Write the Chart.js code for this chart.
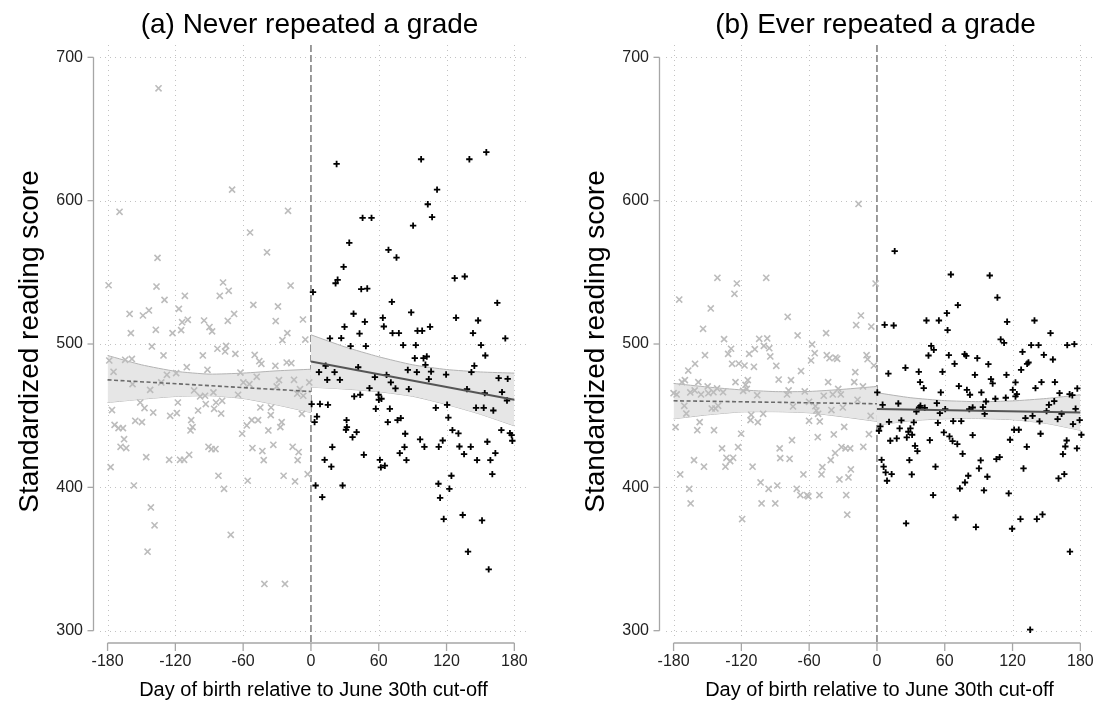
<!DOCTYPE html>
<html><head><meta charset="utf-8">
<script src="https://cdn.jsdelivr.net/npm/chart.js@4/dist/chart.umd.min.js"></script>
<style>
html,body{margin:0;padding:0;background:#fff;overflow:hidden;width:1096px;height:702px;}
.wrap{position:absolute;top:0;width:627px;height:702px;}
</style></head><body>
<div class="wrap" style="left:0"><canvas id="cA" width="627" height="702"></canvas></div>
<div class="wrap" style="left:566px"><canvas id="cB" width="627" height="702"></canvas></div>
<script>
const X_TICKS = [-180,-120,-60,0,60,120,180];
const Y_TICKS = [300,400,500,600,700];
const TITLES = ['(a) Never repeated a grade', '(b) Ever repeated a grade'];
const X_TITLE = 'Day of birth relative to June 30th cut-off';
const Y_TITLE = 'Standardized reading score';

// Panel (a): points born before cut-off (grey x) and after (black +), [day, score]
const A_BEFORE = [[-134.9,678.4],[-69.8,607.7],[-169.4,592.2],[-20.3,592.9],[-53.9,577.8],[-38.9,564.0],[-135.8,560.1],[-179.1,541.0],[-136.7,540.1],[-77.8,542.9],[-72.8,537.1],[-18.0,540.8],[-111.6,533.6],[-80.7,533.6],[-129.6,530.8],[-51.0,527.3],[-29.2,526.2],[-116.9,524.5],[-160.5,521.0],[-143.4,523.4],[-148.7,519.9],[-68.0,521.0],[-109.0,516.9],[-114.0,515.2],[-94.6,516.4],[-73.6,516.2],[-31.2,516.0],[-7.1,517.1],[-89.8,511.8],[-87.5,508.8],[-159.4,507.6],[-137.3,509.9],[-122.5,507.6],[-114.9,509.7],[-20.9,507.6],[-25.3,502.7],[-5.0,503.1],[-140.8,498.3],[-82.8,496.7],[-75.1,498.7],
[-76.0,494.8],[-130.5,492.0],[-95.7,492.0],[-66.9,493.1],[-49.8,492.4],[-164.4,489.0],[-158.5,489.6],[-178.5,488.5],[-45.7,488.0],[-43.9,486.2],[-31.5,484.8],[-21.5,487.1],[-17.4,486.6],[-109.9,483.8],[-91.6,482.0],[-174.7,480.6],[-127.5,478.5],[-119.3,479.7],[-62.4,480.1],[-48.0,477.1],[-28.3,474.8],[-15.0,475.0],[-157.9,472.0],[-132.5,473.2],[-59.8,473.2],[-54.5,472.0],[-1.5,473.2],[-142.3,468.0],[-103.4,467.6],[-86.3,466.2],[-64.5,464.6],[-9.7,468.5],[-12.1,465.3],[-6.8,463.9],[-30.3,470.4],[-98.1,463.4],[-93.7,463.9],[-151.1,459.2],[-117.8,459.2],[-93.1,458.1],[-84.0,459.2],[-78.6,460.4],[-147.3,455.3],[-85.7,454.8],[-44.8,455.7],[-35.3,455.7],[-176.1,453.9],[-139.6,452.2],[-118.7,451.8],[-99.9,453.6],[-79.5,451.5],[-35.6,450.4],[-8.0,451.3],[-124.6,449.9],[-155.5,446.4],[-149.6,445.5],[-106.0,446.9],[-52.4,446.9],[-46.8,446.9],[-56.8,443.2],[-25.9,445.5],[-173.8,443.6],[-104.8,442.0],[-170.3,441.3],[-166.4,441.3],[-106.6,439.7],[-37.7,439.7],[-27.1,442.0],[-60.9,437.4],[-165.4,433.6],[-168.5,428.3],[-163.5,427.4],[-90.7,428.3],[-88.0,426.7],[-84.5,426.7],[-51.8,427.4],[-33.3,429.7],[-16.2,428.3],[-43.0,425.3],[-10.9,424.6],[-145.8,421.1],[-125.5,419.2],[-115.8,419.2],[-112.3,419.2],[-107.8,422.7],[-41.8,419.0],[-11.8,419.0],[-177.3,414.1],[-81.9,408.1],[-24.2,408.1],[-2.9,409.2],[-56.0,404.6],[-14.1,404.1],[-156.7,401.3],[-76.9,399.0],[-141.7,386.0],[-138.4,373.5],[-71.0,366.9],[-144.6,355.1],[-41.2,332.6],[-23.0,332.6]];
const A_AFTER = [[22.7,625.6],[97.5,628.9],[140.2,628.9],[155.2,633.8],[111.6,607.7],[103.4,597.5],[107.2,588.5],[45.7,588.0],[53.6,588.0],[90.4,582.6],[33.9,570.6],[68.6,565.7],[75.7,560.3],[28.9,553.8],[23.6,544.8],[21.8,542.4],[127.2,545.9],[136.1,547.1],[1.8,536.2],[44.5,538.3],[49.8,538.7],[71.6,529.4],[164.9,528.7],[37.7,521.1],[88.7,522.0],[63.6,518.3],[128.4,518.3],[147.9,516.4],[47.7,515.5],[29.7,512.0],[64.5,512.2],[105.4,512.0],[43.0,507.3],[72.2,507.6],[77.8,507.6],[94.3,509.2],[98.4,509.2],[143.4,507.6],[16.8,503.9],[26.8,504.1],[172.0,503.9],[35.1,498.5],[48.6,498.5],[81.6,499.2],[92.8,499.2],[150.5,499.2],
[91.9,490.1],[99.6,490.1],[102.5,491.3],[154.3,492.0],[101.3,485.5],[144.6,484.8],[13.0,484.8],[41.8,483.8],[7.1,480.4],[20.9,480.4],[85.7,481.9],[93.7,480.4],[106.3,480.8],[119.6,478.7],[142.0,480.4],[56.6,476.9],[66.9,478.5],[14.4,475.0],[25.6,475.0],[70.7,473.2],[104.3,475.5],[166.1,476.2],[174.1,475.7],[51.8,469.2],[74.8,469.0],[86.6,468.5],[138.1,468.5],[38.3,463.4],[43.6,464.6],[59.8,464.6],[153.8,465.7],[169.1,466.4],[60.1,461.1],[62.4,461.8],[173.5,460.6],[0.6,458.1],[8.0,458.1],[15.0,457.6],[120.5,457.6],[110.5,455.5],[146.1,455.5],[152.9,455.5],[161.4,453.6],[57.4,454.8],[69.8,454.8],[5.3,449.4],[3.2,445.5],[121.6,448.7],[31.5,446.9],[68.0,445.5],[76.6,446.9],[79.5,448.3],[31.8,442.0],[31.0,440.2],[40.4,438.5],[125.2,439.9],[130.5,437.6],[83.4,437.4],[36.8,435.0],[168.5,439.9],[176.1,437.8],[177.6,436.4],[178.2,432.5],[96.6,433.4],[116.6,432.7],[156.1,431.8],[18.9,428.1],[82.8,428.1],[100.4,428.3],[113.1,428.3],[131.4,428.5],[141.4,428.3],[135.5,423.2],[163.2,423.9],[46.8,422.7],[78.6,423.9],[12.1,419.2],[61.0,419.2],[84.5,419.0],[147.0,419.0],[158.8,419.0],[18.0,414.4],[61.9,413.9],[65.4,415.1],[160.5,409.2],[124.3,408.1],[4.1,401.3],[28.0,401.3],[112.8,402.5],[122.5,399.0],[10.0,393.2],[114.3,392.7],[134.3,380.7],[151.4,376.9],[117.5,377.9],[139.0,355.1],[157.3,342.8]];

// Panel (b)
const B_BEFORE = [[-16.3,597.7],[-141.2,546.2],[-98.0,546.2],[-124.0,542.2],[-1.2,542.2],[-126.1,535.0],[-175.0,531.0],[-147.1,524.8],[-79.0,519.0],[-14.2,519.9],[-18.4,513.2],[-5.0,512.2],[-153.9,510.6],[-70.2,506.0],[-45.0,507.6],[-135.3,503.4],[-104.2,503.6],[-97.1,503.9],[-57.4,499.7],[-129.1,496.7],[-108.1,496.4],[-100.1,498.7],[-95.3,497.1],
[-152.2,492.2],[-131.7,493.1],[-113.1,493.1],[-94.4,491.3],[-55.1,493.6],[-58.3,488.5],[-44.4,492.2],[-42.0,490.1],[-36.7,490.6],[-35.2,489.7],[-9.2,492.2],[-8.3,489.4],[-2.7,485.0],[-161.0,486.2],[-128.2,486.2],[-122.3,486.4],[-117.2,485.0],[-108.9,484.1],[-89.1,484.8],[-167.0,481.5],[-67.2,481.1],[-19.2,480.4],[-170.0,474.8],[-172.6,473.4],[-158.1,473.4],[-125.2,473.4],[-114.3,474.8],[-87.0,475.2],[-76.1,474.8],[-43.2,473.4],[-20.1,473.4],[-12.4,470.4],[-116.3,471.5],[-149.8,470.4],[-141.5,469.0],[-161.3,467.6],[-34.3,468.7],[-180.0,465.7],[-177.3,464.8],[-165.2,466.2],[-155.7,464.8],[-149.2,465.7],[-144.7,466.4],[-136.2,466.4],[-118.4,467.3],[-115.2,468.7],[-106.0,464.3],[-79.6,464.8],[-78.2,467.6],[-63.9,466.9],[-47.1,463.9],[-39.1,464.8],[-32.0,464.8],[-17.2,461.1],[-170.5,456.9],[-146.2,455.0],[-143.0,455.0],[-140.6,456.9],[-74.3,456.4],[-60.1,459.7],[-54.5,456.6],[-53.6,453.6],[-40.3,453.9],[-30.2,455.7],[-168.7,451.5],[-111.3,450.6],[-100.7,451.3],[-52.1,451.3],[-5.6,449.9],[-156.9,445.5],[-111.9,446.9],[-105.4,445.5],[-60.1,446.4],[-50.6,446.0],[-178.2,442.0],[-159.0,439.9],[-144.2,439.9],[-120.2,437.4],[-29.0,442.2],[-52.4,435.0],[-38.2,436.9],[-7.1,437.1],[-75.2,432.9],[-122.9,428.1],[-137.1,427.2],[-86.1,427.2],[-31.4,428.1],[-27.8,427.2],[-23.7,427.2],[-12.1,428.3],[-37.0,423.9],[-133.2,420.6],[-127.3,420.6],[-85.6,420.4],[-77.3,419.9],[-161.9,419.0],[-40.9,419.0],[-129.9,418.3],[-153.1,414.4],[-134.1,414.4],[-110.1,414.4],[-48.3,414.1],[-23.1,412.5],[-174.1,409.0],[-65.1,409.0],[-49.1,409.0],[-33.2,405.5],[-25.2,406.9],[-103.0,403.4],[-166.1,399.0],[-95.9,399.0],[-88.2,401.3],[-71.0,399.0],[-67.8,394.6],[-61.9,394.6],[-60.7,393.7],[-50.9,394.6],[-27.2,394.6],[-164.9,388.8],[-102.1,388.8],[-90.0,388.8],[-26.3,380.9],[-119.3,377.9]];
const B_AFTER = [[15.7,564.8],[65.4,548.5],[99.8,547.8],[106.6,532.4],[71.6,527.1],[61.9,521.5],[6.8,513.4],[14.8,512.9],[43.8,516.4],[54.8,516.4],[115.2,515.5],[139.4,516.4],[62.5,509.7],[153.6,507.6],[109.5,503.2],[112.5,500.8],[48.0,498.7],[136.5,499.2],[143.0,499.2],[168.4,499.2],[174.7,499.9],
[50.3,495.9],[45.6,492.0],[63.6,492.2],[77.6,492.9],[79.0,491.7],[88.8,490.1],[128.8,494.5],[147.7,492.4],[155.7,489.2],[68.7,486.2],[98.6,485.9],[134.1,487.1],[132.9,486.2],[25.2,483.4],[10.1,479.4],[37.0,480.6],[58.0,480.6],[86.7,478.5],[114.6,478.5],[127.6,482.0],[38.2,473.4],[100.9,475.5],[102.4,472.5],[122.6,473.2],[145.6,473.4],[157.5,473.4],[41.4,469.2],[72.5,470.6],[79.6,468.0],[140.3,469.2],[177.3,469.0],[0.3,466.2],[56.5,466.2],[82.3,464.6],[92.4,466.2],[120.2,468.0],[123.8,465.0],[161.6,465.7],[170.5,465.0],[172.9,464.3],[104.8,461.8],[114.0,462.5],[96.5,459.9],[122.6,463.4],[5.0,457.6],[18.9,458.5],[53.0,458.7],[156.9,460.1],[152.2,457.6],[38.5,456.9],[42.3,455.5],[37.3,455.7],[60.4,454.6],[81.7,454.6],[84.7,455.7],[93.8,456.0],[175.8,454.8],[34.9,452.9],[55.7,451.8],[95.3,451.3],[150.1,453.2],[163.4,451.3],[137.7,449.9],[10.7,445.7],[21.6,446.7],[67.5,446.2],[74.6,446.2],[53.9,445.0],[131.4,448.3],[143.9,446.0],[159.9,447.6],[179.4,446.9],[173.5,444.1],[32.6,445.3],[3.0,442.5],[20.1,441.1],[29.6,441.1],[1.8,439.5],[27.8,438.8],[59.2,438.3],[121.4,440.2],[125.5,440.2],[31.1,436.7],[84.7,436.4],[144.8,437.4],[180.9,436.7],[17.5,434.1],[26.4,434.8],[64.2,435.5],[11.8,432.5],[46.8,432.9],[66.9,432.3],[71.1,430.2],[117.8,433.2],[167.9,432.7],[33.7,429.0],[132.6,428.3],[166.7,428.5],[177.0,427.2],[35.8,425.3],[75.8,423.4],[164.6,423.2],[4.1,419.2],[28.7,419.0],[91.8,418.8],[105.7,419.7],[108.6,421.1],[5.9,414.4],[51.8,414.4],[90.3,413.2],[129.7,413.2],[7.7,410.4],[13.0,409.2],[30.8,409.0],[80.8,408.1],[97.7,407.4],[165.8,409.2],[160.7,406.2],[8.9,404.6],[77.9,403.4],[73.4,399.2],[94.7,397.9],[49.7,394.6],[116.6,395.8],[69.6,379.0],[127.0,377.9],[141.5,377.9],[146.5,381.1],[25.8,374.9],[87.6,372.3],[119.6,371.1],[170.8,355.1],[135.6,300.7]];

// Fitted lines and 95% CI bands
const BAND_X_LEFT = [-180,-150,-120,-90,-60,-30,0];
const BAND_X_RIGHT = [0,30,60,90,120,150,180];
const A_BAND_L_UP = [492.0,485.5,481.0,479.0,479.7,481.3,482.4];
const A_BAND_L_LO = [459.2,461.5,463.4,463.9,462.0,457.5,452.2];
const A_BAND_R_UP = [506.4,498.0,491.1,485.5,482.2,480.5,479.7];
const A_BAND_R_LO = [469.9,468.6,466.7,463.5,457.8,451.0,442.9];
const B_BAND_L_UP = [472.5,470.0,468.0,466.8,466.9,468.4,470.4];
const B_BAND_L_LO = [447.8,450.6,452.6,452.8,452.0,449.2,446.0];
const B_BAND_R_UP = [466.0,462.5,460.5,459.8,460.3,462.0,464.6];
const B_BAND_R_LO = [443.4,446.5,447.8,448.0,447.2,444.6,439.8];
const A_FIT_L = [[-180,475.0],[0,466.9]];
const A_FIT_R = [[0,487.8],[180,461.1]];
const B_FIT_L = [[-180,460.4],[0,458.3]];
const B_FIT_R = [[0,454.6],[180,452.2]];

const FONT = "'Liberation Sans', Arial, Helvetica, sans-serif";
const pts = a => a.map(p => ({x:p[0], y:p[1]}));
const band = (xs, ys) => xs.map((x,i) => ({x, y:ys[i]}));

const decor = {
  id:'decor',
  beforeDatasetsDraw(chart){
    const {ctx, chartArea:a, scales:{x,y}} = chart;
    ctx.save();
    ctx.strokeStyle = '#c2c2c2'; ctx.lineWidth = 1; ctx.setLineDash([1,4]);
    Y_TICKS.forEach(v => { const py = Math.round(y.getPixelForValue(v)) + 0.5;
      ctx.beginPath(); ctx.moveTo(a.left, py); ctx.lineTo(a.right, py); ctx.stroke(); });
    X_TICKS.forEach(v => { if (v === 0) return; const px = Math.round(x.getPixelForValue(v)) + 0.5;
      ctx.beginPath(); ctx.moveTo(px, a.top); ctx.lineTo(px, a.bottom); ctx.stroke(); });
    const p0 = x.getPixelForValue(0);
    ctx.strokeStyle = '#7c7c7c'; ctx.lineWidth = 1.5; ctx.setLineDash([7,3]);
    ctx.beginPath(); ctx.moveTo(p0, a.top); ctx.lineTo(p0, a.bottom + 4); ctx.stroke();
    ctx.setLineDash([]); ctx.strokeStyle = '#a6a6a6'; ctx.lineWidth = 1.3;
    const ax = a.left - 6.5;
    ctx.beginPath(); ctx.moveTo(ax, y.getPixelForValue(700)); ctx.lineTo(ax, y.getPixelForValue(300)); ctx.stroke();
    Y_TICKS.forEach(v => { const py = y.getPixelForValue(v);
      ctx.beginPath(); ctx.moveTo(ax, py); ctx.lineTo(ax - 6, py); ctx.stroke(); });
    const ay = a.bottom + 5;
    ctx.beginPath(); ctx.moveTo(x.getPixelForValue(-180), ay); ctx.lineTo(x.getPixelForValue(180), ay); ctx.stroke();
    X_TICKS.forEach(v => { const px = x.getPixelForValue(v);
      ctx.beginPath(); ctx.moveTo(px, ay); ctx.lineTo(px, ay + 8); ctx.stroke(); });
    ctx.restore();
  },
  afterDraw(chart){
    const {ctx, chartArea:a} = chart;
    ctx.save();
    ctx.fillStyle = '#000'; ctx.font = '28px ' + FONT;
    ctx.textAlign = 'center'; ctx.textBaseline = 'middle';
    ctx.fillText(chart.options.panelTitle, (a.left + a.right) / 2 - 4, 25);
    ctx.restore();
  }
};

function makeChart(id, title, before, after, bl, blu, bll, br, bru, brl, fitL, fitR){
  const bandStyle = {type:'line', borderColor:'#b3b3b3', borderWidth:1, backgroundColor:'#e6e6e6',
    pointRadius:0, tension:0.2, order:3};
  return new Chart(document.getElementById(id), {
    type:'scatter',
    data:{datasets:[
      Object.assign({data:band(bl, blu), fill:'+1'}, bandStyle),
      Object.assign({data:band(bl, bll), fill:false}, bandStyle),
      Object.assign({data:band(br, bru), fill:'+1'}, bandStyle),
      Object.assign({data:band(br, brl), fill:false}, bandStyle),
      {type:'scatter', data:pts(before), pointStyle:'crossRot', pointRadius:4.3, borderColor:'#bcbcbc',
        pointBorderColor:'#bcbcbc', borderWidth:1.6, pointBorderWidth:1.6, backgroundColor:'#bcbcbc', order:2},
      {type:'scatter', data:pts(after), pointStyle:'cross', pointRadius:3.2, borderColor:'#000',
        pointBorderColor:'#000', borderWidth:1.8, pointBorderWidth:1.8, backgroundColor:'#000', order:2},
      {type:'line', data:pts(fitL), borderColor:'#6a6a6a', borderWidth:1.6, borderDash:[4,2.5], pointRadius:0, fill:false, order:1},
      {type:'line', data:pts(fitR), borderColor:'#555', borderWidth:2, pointRadius:0, fill:false, order:1}
    ]},
    options:{
      panelTitle:title,
      responsive:false, animation:false, devicePixelRatio:1, events:[],
      layout:{padding:{left:0, right:100, top:45, bottom:0}},
      plugins:{legend:{display:false}, tooltip:{enabled:false}, title:{display:false}},
      scales:{
        x:{type:'linear', min:-186.7, max:191.2,
          afterBuildTicks:s => { s.ticks = X_TICKS.map(v => ({value:v})); },
          afterFit:s => { s.height = 64; },
          grid:{display:false, drawTicks:false}, border:{display:false},
          ticks:{autoSkip:false, maxRotation:0, minRotation:0, padding:14, color:'#222', font:{family:FONT, size:16},
            callback:v => String(v)},
          title:{display:true, text:X_TITLE, color:'#000', font:{family:FONT, size:20, lineHeight:1.2}, padding:{top:0, bottom:0}}},
        y:{type:'linear', min:294.9, max:708.6,
          afterBuildTicks:s => { s.ticks = Y_TICKS.map(v => ({value:v})); },
          afterFit:s => { s.width = 100; },
          grid:{display:false, drawTicks:false}, border:{display:false},
          ticks:{autoSkip:false, padding:17, color:'#222', font:{family:FONT, size:16}, callback:v => String(v)},
          title:{display:true, text:Y_TITLE, color:'#000', font:{family:FONT, size:28, lineHeight:1.2}, padding:{top:13.2, bottom:0}}}
      }
    },
    plugins:[decor]
  });
}

makeChart('cA', TITLES[0], A_BEFORE, A_AFTER, BAND_X_LEFT, A_BAND_L_UP, A_BAND_L_LO, BAND_X_RIGHT, A_BAND_R_UP, A_BAND_R_LO, A_FIT_L, A_FIT_R);
makeChart('cB', TITLES[1], B_BEFORE, B_AFTER, BAND_X_LEFT, B_BAND_L_UP, B_BAND_L_LO, BAND_X_RIGHT, B_BAND_R_UP, B_BAND_R_LO, B_FIT_L, B_FIT_R);
</script>
</body></html>
